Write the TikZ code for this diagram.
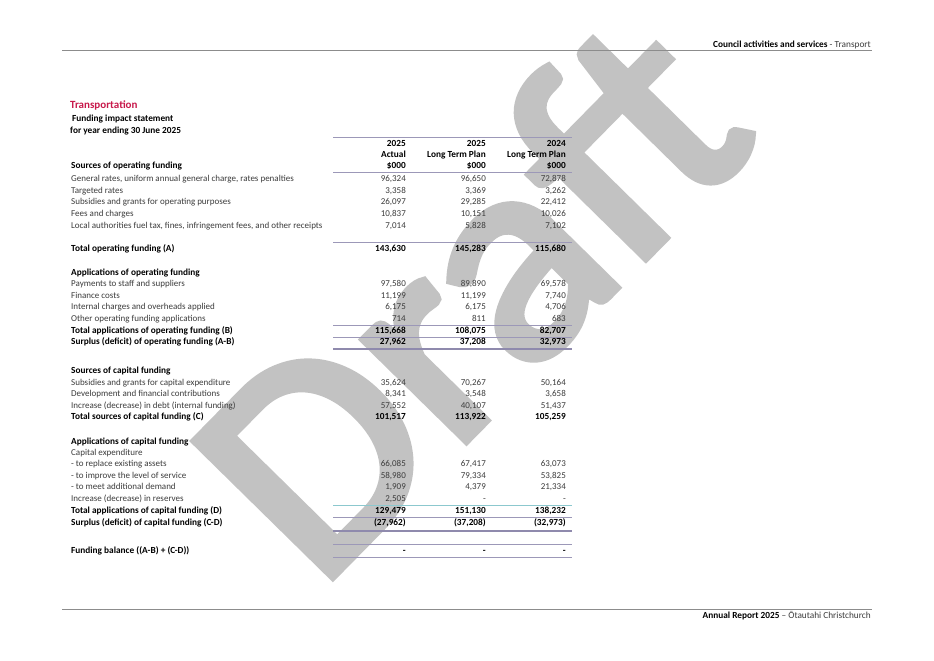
\documentclass[tikz,border=0pt]{standalone}
\usepackage{fontspec}
\setmainfont{Carlito}
\newfontfamily\draftfont[FakeBold=3]{Carlito}
\usetikzlibrary{positioning}

\definecolor{bodytext}{HTML}{3C3C3C}
\definecolor{titlered}{HTML}{C8194B}
\definecolor{rulepurple}{HTML}{9C98B8}
\definecolor{rulethick}{HTML}{8F8AAD}
\definecolor{ruleteal}{HTML}{8CC8CE}
\definecolor{pagerule}{HTML}{8C8C8C}
\definecolor{draftgray}{HTML}{C2C2C2}

\begin{document}
\begin{tikzpicture}[x=1pt, y=-1pt,
    lab/.style={anchor=mid west, inner sep=0pt, text=bodytext, font=\fontsize{9}{11}\selectfont},
    blab/.style={anchor=mid west, inner sep=0pt, text=black, font=\fontsize{9.3}{11}\selectfont\bfseries},
    num/.style={anchor=mid east, inner sep=0pt, text=bodytext, font=\fontsize{9}{11}\selectfont},
    bnum/.style={anchor=mid east, inner sep=0pt, text=black, font=\fontsize{9.3}{11}\selectfont\bfseries},
    rule/.style={draw=rulepurple, line width=0.9pt},
    thickrule/.style={draw=rulethick, line width=2.6pt},
    tealrule/.style={draw=ruleteal, line width=0.9pt},
    pagerulestyle/.style={draw=pagerule, line width=1pt},
    watermark/.style={anchor=base west, inner sep=0pt, rotate=45.5, xscale=1.04,
                      text=draftgray, font=\draftfont\fontsize{300}{300}\selectfont}]

    \useasboundingbox[fill=white] (0,0) rectangle (934,661);

    % watermark
    \node[watermark] (draft) at (318,591) {Draft};

    % page header and footer
    \coordinate (hl) at (62,50.5);
    \coordinate (hr) at (872,50.5);
    \coordinate (fl) at (62,609.3);
    \coordinate (fr) at (872,609.3);
    \draw[pagerulestyle] (hl) -- (hr);
    \draw[pagerulestyle] (fl) -- (fr);
    \node[anchor=mid east, inner sep=0pt, font=\fontsize{9.3}{11}\selectfont] (header) at (871,45)
        {\textbf{Council activities and services} \textcolor{bodytext}{- Transport}};
    \node[anchor=mid east, inner sep=0pt, font=\fontsize{9.3}{11}\selectfont] (footer) at (871,616)
        {\textbf{Annual Report 2025} \textcolor{bodytext}{– Ōtautahi Christchurch}};

    % titles
    \node[anchor=mid west, inner sep=0pt, text=titlered, font=\fontsize{11}{13}\selectfont\bfseries] (title) at (70,106) {Transportation};
    \node[blab] (subtitle) at (72,119) {Funding impact statement};
    \node[blab] (period) at (70,131) {for year ending 30 June 2025};

    % column heads
    \node[bnum] (ya) at (406,144) {2025};
    \node[bnum] (yb) at (486,144) {2025};
    \node[bnum] (yc) at (566,144) {2024};
    \node[bnum] (ka) at (406,155) {Actual};
    \node[bnum] (kb) at (486,155) {Long Term Plan};
    \node[bnum] (kc) at (566,155) {Long Term Plan};
    \node[bnum] (ua) at (406,166) {\$000};
    \node[bnum] (ub) at (486,166) {\$000};
    \node[bnum] (uc) at (566,166) {\$000};

    % rules across the figures
    \foreach \y in {137, 172, 242.7, 325.5, 337, 517, 544.5, 557}
        \draw[rule] (333,\y) -- (572,\y);
    \foreach \y in {349, 531}
        \draw[thickrule] (333,\y) -- (572,\y);
    \draw[tealrule] (333,505.3) -- (572,505.3);

    % section heads
    \node[blab] (srcop) at (71,166) {Sources of operating funding};
    \node[blab] (appop) at (71,273) {Applications of operating funding};
    \node[blab] (srccap) at (71,371) {Sources of capital funding};
    \node[blab] (appcap) at (71,441.7) {Applications of capital funding};
    \node[lab] (capex) at (71,453) {Capital expenditure};

    % plain rows
    \foreach \y/\t/\a/\b/\c [count=\i] in {
        179/{General rates, uniform annual general charge, rates penalties}/{96,324}/{96,650}/{72,878},
        190.7/{Targeted rates}/{3,358}/{3,369}/{3,262},
        202.3/{Subsidies and grants for operating purposes}/{26,097}/{29,285}/{22,412},
        214/{Fees and charges}/{10,837}/{10,151}/{10,026},
        225.7/{Local authorities fuel tax, fines, infringement fees, and other receipts}/{7,014}/{5,828}/{7,102},
        284.5/{Payments to staff and suppliers}/{97,580}/{89,890}/{69,578},
        296/{Finance costs}/{11,199}/{11,199}/{7,740},
        307.5/{Internal charges and overheads applied}/{6,175}/{6,175}/{4,706},
        319/{Other operating funding applications}/{714}/{811}/{683},
        383/{Subsidies and grants for capital expenditure}/{35,624}/{70,267}/{50,164},
        394.5/{Development and financial contributions}/{8,341}/{3,548}/{3,658},
        406/{Increase (decrease) in debt (internal funding)}/{57,552}/{40,107}/{51,437},
        464.3/{- to replace existing assets}/{66,085}/{67,417}/{63,073},
        475.8/{- to improve the level of service}/{58,980}/{79,334}/{53,825},
        487.3/{- to meet additional demand}/{1,909}/{4,379}/{21,334},
        499/{Increase (decrease) in reserves}/{2,505}/{-}/{-}} {
        \node[lab] (row\i) at (71,\y) {\t};
        \node[num] (row\i a) at (406,\y) {\a};
        \node[num] (row\i b) at (486,\y) {\b};
        \node[num] (row\i c) at (566,\y) {\c};
    }

    % total rows
    \foreach \y/\t/\a/\b/\c [count=\i] in {
        249.3/{Total operating funding (A)}/{143,630}/{145,283}/{115,680},
        330.7/{Total applications of operating funding (B)}/{115,668}/{108,075}/{82,707},
        342.3/{Surplus (deficit) of operating funding (A-B)}/{27,962}/{37,208}/{32,973},
        417.5/{Total sources of capital funding (C)}/{101,517}/{113,922}/{105,259},
        510.8/{Total applications of capital funding (D)}/{129,479}/{151,130}/{138,232},
        522.7/{Surplus (deficit) of capital funding (C-D)}/{(27,962)}/{(37,208)}/{(32,973)},
        551.5/{Funding balance ((A-B) + (C-D))}/{-}/{-}/{-}} {
        \node[blab] (tot\i) at (71,\y) {\t};
        \node[bnum] (tot\i a) at (406,\y) {\a};
        \node[bnum] (tot\i b) at (486,\y) {\b};
        \node[bnum] (tot\i c) at (566,\y) {\c};
    }
\end{tikzpicture}
\end{document}
